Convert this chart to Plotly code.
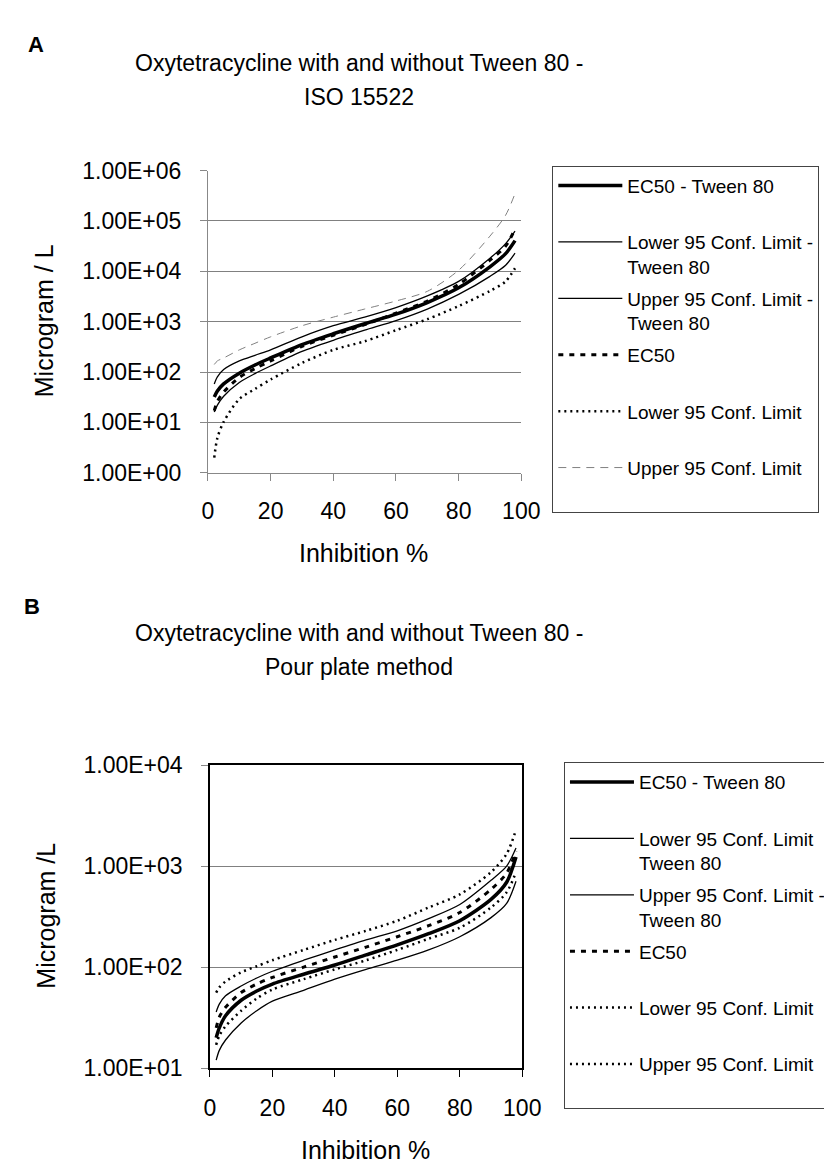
import plotly.graph_objects as go

# Inhibition (%) at which the curves were read
inhibition = [2, 3, 5, 10, 15, 20, 30, 40, 50, 60, 70, 80, 90, 95, 98]

# Panel A - ISO 15522 (microgram / L)
iso_ec50_tween = [32, 42, 58, 95, 138, 190, 350, 575, 910, 1410, 2400, 4700, 12300, 22400, 40700]
iso_lower_tween = [16, 22, 33, 62, 93, 132, 257, 427, 676, 1050, 1780, 3470, 7940, 13200, 22900]
iso_upper_tween = [58, 80, 112, 166, 215, 275, 500, 830, 1230, 1900, 3240, 6300, 18200, 35500, 63000]
iso_ec50 = [17, 26, 40, 78, 117, 166, 324, 537, 870, 1480, 2570, 5500, 16600, 31600, 69000]
iso_lower = [2, 4.9, 10.2, 29, 46, 71, 151, 275, 407, 676, 1120, 2040, 4070, 6310, 11500]
iso_upper = [141, 166, 190, 275, 372, 500, 830, 1230, 1780, 2570, 4000, 10500, 50000, 130000, 350000]

# Panel B - Pour plate method (microgram / L)
pour_ec50_tween = [20, 25, 33, 47, 58, 68, 85, 105, 132, 166, 214, 288, 468, 692, 1230]
pour_lower_tween = [12, 15, 19, 28, 37, 46, 59, 76, 95, 117, 148, 200, 309, 427, 708]
pour_upper_tween = [36, 43, 52, 65, 78, 91, 117, 148, 186, 229, 302, 417, 724, 1000, 1510]
pour_ec50 = [25, 32, 40, 56, 68, 79, 100, 126, 158, 200, 257, 347, 589, 851, 1410]
pour_lower = [17, 21, 26, 37, 49, 60, 76, 95, 117, 148, 191, 245, 389, 550, 871]
pour_upper = [56, 63, 72, 89, 102, 117, 148, 186, 229, 288, 389, 525, 871, 1320, 2290]

# Axis ticks
x_ticks = [0, 20, 40, 60, 80, 100]
iso_y_ticks = [1, 10, 100, 1000, 10000, 100000, 1000000]
iso_y_labels = ["1.00E+00", "1.00E+01", "1.00E+02", "1.00E+03", "1.00E+04", "1.00E+05", "1.00E+06"]
pour_y_ticks = [10, 100, 1000, 10000]
pour_y_labels = ["1.00E+01", "1.00E+02", "1.00E+03", "1.00E+04"]

FONT = "Liberation Sans, Arial, sans-serif"
W, H = 832, 1168

# line styles
thick = dict(color="black", width=3.5)
thin = dict(color="black", width=1.3)
bold_dash = dict(color="black", width=3, dash="5px,6px")
dots = dict(color="black", width=2.5, dash="2px,4px")
grey_dash = dict(color="#808080", width=1, dash="8px,6px")


def add_series(fig, y, name, line, xaxis, yaxis, legend, rank):
    fig.add_trace(
        go.Scatter(
            x=inhibition,
            y=y,
            name=name,
            mode="lines",
            line=dict(shape="spline", smoothing=0.8, **line),
            xaxis=xaxis,
            yaxis=yaxis,
            legend=legend,
            legendgroup=legend + str(rank),
            legendrank=rank,
        )
    )


fig = go.Figure()

panel_a = [
    (iso_ec50_tween, "EC50 - Tween 80<br> ", thick),
    (iso_lower_tween, "Lower 95 Conf. Limit -<br>Tween 80", thin),
    (iso_upper_tween, "Upper 95 Conf. Limit -<br>Tween 80", thin),
    (iso_ec50, "EC50<br> ", bold_dash),
    (iso_lower, "Lower 95 Conf. Limit<br> ", dots),
    (iso_upper, "Upper 95 Conf. Limit<br> ", grey_dash),
]
for i, (y, name, line) in enumerate(panel_a):
    add_series(fig, y, name, line, "x", "y", "legend", i + 1)

panel_b = [
    (pour_ec50_tween, "EC50 - Tween 80<br> ", thick),
    (pour_lower_tween, "Lower 95 Conf. Limit<br>Tween 80", thin),
    (pour_upper_tween, "Upper 95 Conf. Limit -<br>Tween 80", thin),
    (pour_ec50, "EC50<br> ", bold_dash),
    (pour_lower, "Lower 95 Conf. Limit<br> ", dots),
    (pour_upper, "Upper 95 Conf. Limit<br> ", dots),
]
for i, (y, name, line) in enumerate(panel_b):
    add_series(fig, y, name, line, "x2", "y2", "legend2", i + 1)


def px_x(p):
    return p / W


def px_y(p):
    return 1 - p / H


tick_font = dict(family=FONT, size=23, color="black")
legend_style = dict(
    font=dict(family=FONT, size=19, color="black"),
    bgcolor="white",
    bordercolor="#444",
    borderwidth=1,
    xanchor="left",
    yanchor="top",
    valign="top",
    itemwidth=64,
    traceorder="grouped",
    tracegroupgap=4,
)

fig.update_layout(
    width=W,
    height=H,
    margin=dict(l=0, r=0, t=0, b=0),
    paper_bgcolor="white",
    plot_bgcolor="white",
    font=dict(family=FONT, color="black"),
    xaxis=dict(
        domain=[px_x(200), px_x(523)],
        range=[0, 100],
        tickvals=x_ticks,
        ticks="outside",
        ticklen=7,
        tickcolor="#888",
        showgrid=False,
        showline=True,
        linecolor="#888",
        zeroline=False,
        tickfont=tick_font,
        ticklabelstandoff=11,
        anchor="y",
    ),
    yaxis=dict(
        domain=[px_y(462), px_y(153)],
        type="log",
        range=[0, 6],
        tickvals=iso_y_ticks,
        ticktext=iso_y_labels,
        ticks="outside",
        ticklen=7,
        tickcolor="#888",
        showgrid=True,
        gridcolor="#808080",
        gridwidth=1,
        showline=True,
        linecolor="#888",
        tickfont=tick_font,
        ticklabelstandoff=14,
        anchor="x",
    ),
    xaxis2=dict(
        domain=[px_x(202), px_x(524)],
        range=[0, 100],
        tickvals=x_ticks,
        ticks="outside",
        ticklen=7,
        tickcolor="black",
        showgrid=False,
        showline=True,
        linecolor="black",
        linewidth=1.5,
        mirror=True,
        zeroline=False,
        tickfont=tick_font,
        ticklabelstandoff=11,
        anchor="y2",
    ),
    yaxis2=dict(
        domain=[px_y(1071), px_y(761)],
        type="log",
        range=[1, 4],
        tickvals=pour_y_ticks,
        ticktext=pour_y_labels,
        ticks="outside",
        ticklen=7,
        tickcolor="#888",
        showgrid=True,
        gridcolor="#808080",
        gridwidth=1,
        showline=True,
        linecolor="black",
        linewidth=1.5,
        mirror=True,
        tickfont=tick_font,
        ticklabelstandoff=14,
        anchor="x2",
    ),
    legend=dict(x=px_x(555), y=px_y(148), **legend_style),
    legend2=dict(x=px_x(567), y=px_y(758), **legend_style),
    showlegend=True,
)

# titles, panel letters and axis titles
texts = [
    ("A", 23, 24, 22, True, 0),
    ("Oxytetracycline with and without Tween 80 -", 356, 43, 23, False, 0),
    ("ISO 15522", 356, 78, 23, False, 0),
    ("Microgram / L", 31, 307, 25, False, -90),
    ("Inhibition %", 360, 544, 25, False, 0),
    ("B", 19, 599, 22, True, 0),
    ("Oxytetracycline with and without Tween 80 -", 356, 626, 23, False, 0),
    ("Pour plate method", 356, 661, 23, False, 0),
    ("Microgram /L", 33, 915, 25, False, -90),
    ("Inhibition %", 362, 1155, 25, False, 0),
]
for text, x, y, size, bold, angle in texts:
    fig.add_annotation(
        text="<b>%s</b>" % text if bold else text,
        x=px_x(x),
        y=px_y(y),
        xref="paper",
        yref="paper",
        xanchor="center",
        yanchor="middle",
        showarrow=False,
        textangle=angle,
        font=dict(family=FONT, size=size, color="black"),
    )

fig.write_html("out.html")
